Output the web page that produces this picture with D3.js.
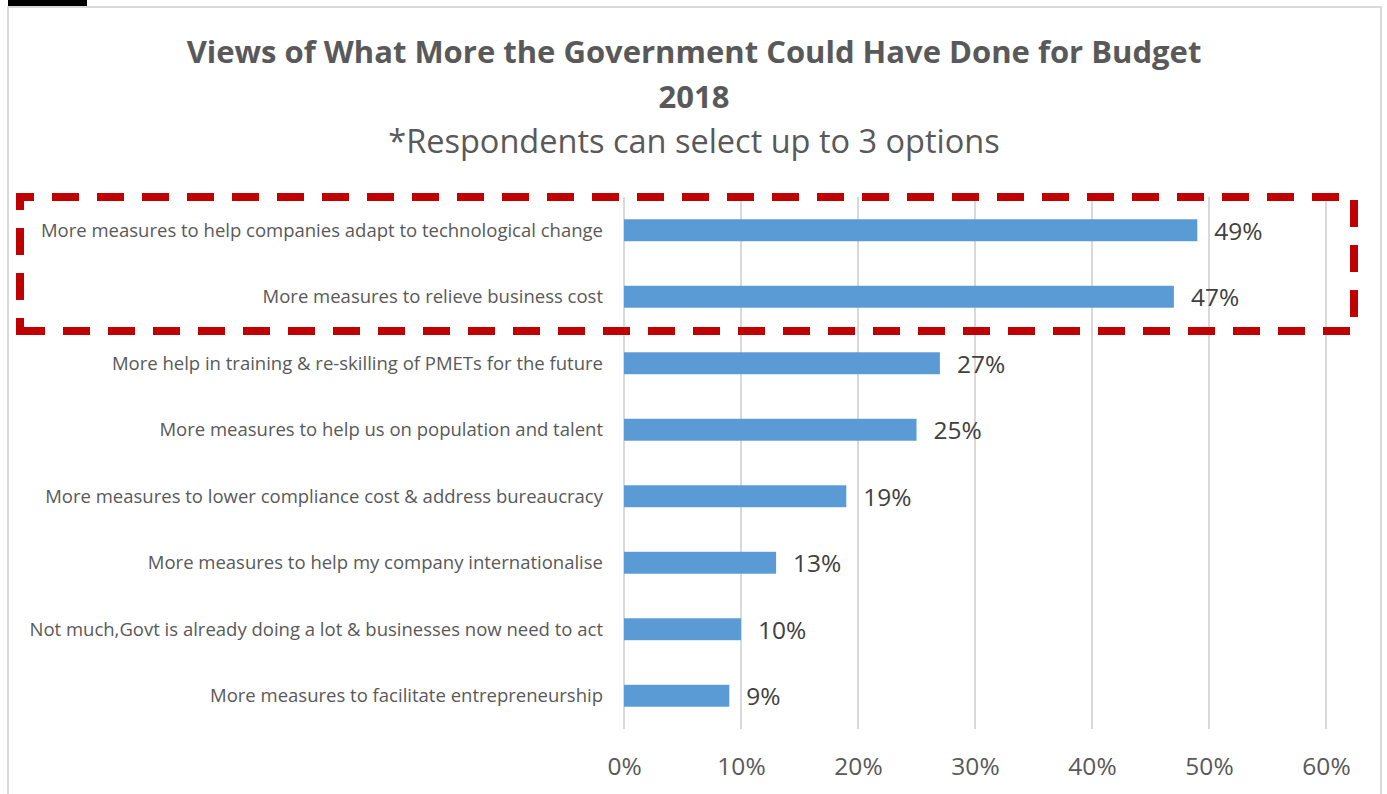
<!DOCTYPE html>
<html>
<head>
<meta charset="utf-8">
<script src="https://cdn.jsdelivr.net/npm/d3@7"></script>
<style>
  html, body { margin: 0; padding: 0; background: #fff; }
  svg { display: block; font-family: "Open Sans", "Noto Sans", sans-serif; }
</style>
</head>
<body>
<svg id="chart" width="1387" height="794"></svg>
<script>
// Survey responses, top to bottom
const categories = [
  "More measures to help companies adapt to technological change",
  "More measures to relieve business cost",
  "More help in training & re-skilling of PMETs for the future",
  "More measures to help us on population and talent",
  "More measures to lower compliance cost & address bureaucracy",
  "More measures to help my company internationalise",
  "Not much,Govt is already doing a lot & businesses now need to act",
  "More measures to facilitate entrepreneurship"
];
const values = [49, 47, 27, 25, 19, 13, 10, 9];
const xTicks = [0, 10, 20, 30, 40, 50, 60];
const titleLines = ["Views of What More the Government Could Have Done for Budget", "2018"];
const subtitle = "*Respondents can select up to 3 options";

const svg = d3.select("#chart");
const margin = { left: 624, right: 1326, top: 197, bottom: 729 };

// Frame of the chart area
svg.append("rect").attr("x", 8).attr("y", 7).attr("width", 1373).attr("height", 800)
  .attr("fill", "#fff").attr("stroke", "#d9d9d9").attr("stroke-width", 2);
svg.append("rect").attr("x", 8).attr("y", 0).attr("width", 79).attr("height", 6).attr("fill", "#000");

const x = d3.scaleLinear().domain([0, 60]).range([margin.left, margin.right]);
const y = d3.scaleBand().domain(categories).range([margin.top, margin.bottom]).paddingInner(0.67).paddingOuter(0.335);

// Vertical gridlines
svg.append("g").selectAll("line").data(xTicks).join("line")
  .attr("x1", d => x(d)).attr("x2", d => x(d))
  .attr("y1", margin.top).attr("y2", margin.bottom)
  .attr("stroke", "#d9d9d9").attr("stroke-width", 2);

// X axis labels
const xAxis = d3.axisBottom(x).tickValues(xTicks).tickFormat(d => d + "%").tickSize(0).tickPadding(0);
const gx = svg.append("g").attr("transform", `translate(0, ${margin.bottom + 29})`).call(xAxis);
gx.select(".domain").remove();
gx.selectAll("text").attr("font-size", 24.5).attr("fill", "#595959")
  .attr("font-family", "'Open Sans', sans-serif").attr("dy", "0.71em");

// Bars
svg.append("g").selectAll("rect").data(values).join("rect")
  .attr("x", x(0))
  .attr("y", (d, i) => y(categories[i]))
  .attr("width", d => x(d) - x(0))
  .attr("height", y.bandwidth())
  .attr("fill", "#5b9bd5");

// Value labels
svg.append("g").selectAll("text").data(values).join("text")
  .attr("x", d => x(d) + 17)
  .attr("y", (d, i) => y(categories[i]) + y.bandwidth() / 2)
  .attr("dy", "0.38em")
  .attr("font-size", 24.5).attr("fill", "#404040")
  .text(d => d + "%");

// Category labels
svg.append("g").selectAll("text").data(categories).join("text")
  .attr("x", margin.left - 21)
  .attr("y", d => y(d) + y.bandwidth() / 2)
  .attr("dy", "0.36em")
  .attr("text-anchor", "end")
  .attr("font-size", 18.5).attr("fill", "#595959")
  .text(d => d);

// Title
svg.append("g").selectAll("text").data(titleLines).join("text")
  .attr("x", 694).attr("y", (d, i) => 63 + i * 45)
  .attr("text-anchor", "middle")
  .attr("font-size", 31).attr("font-weight", "bold").attr("fill", "#595959")
  .text(d => d);
svg.append("text").attr("x", 694).attr("y", 153)
  .attr("text-anchor", "middle").attr("font-size", 32.5).attr("fill", "#595959")
  .text(subtitle);

// Highlight box around the top two responses, traced from its bottom-left corner
const bx0 = 20, by0 = 197, bx1 = 1354, by1 = 331;
svg.append("path")
  .attr("d", `M${bx0},${by1}V${by0}H${bx1}V${by1}Z`)
  .attr("fill", "none").attr("stroke", "#c00000").attr("stroke-width", 8)
  .attr("stroke-dasharray", "27,18").attr("stroke-dashoffset", 14);
</script>
</body>
</html>
